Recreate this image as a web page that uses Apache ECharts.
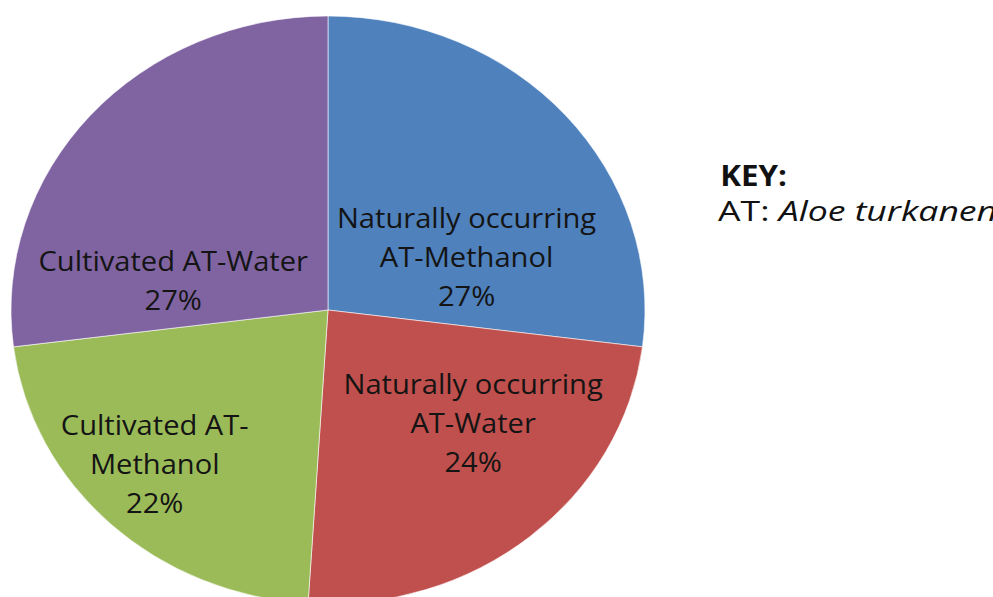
<!DOCTYPE html>
<html>
<head>
<meta charset="utf-8">
<script src="https://cdn.jsdelivr.net/npm/echarts@6/dist/echarts.min.js"></script>
<style>
  html, body { margin: 0; padding: 0; background: #fff; overflow: hidden; }
  /* the chart is drawn slightly wider than tall, so the pie reads as an ellipse */
  #wrap { position: absolute; left: 0; top: 0; width: 993px; height: 597px; overflow: hidden; }
  #chart { position: absolute; left: 0; top: 0; width: 921px; height: 597px;
           transform: scaleX(1.0782); transform-origin: 0 0; }
</style>
</head>
<body>
<div id="wrap"><div id="chart"></div></div>
<script>
// Share of each extract (percent)
const categories = [
  'Naturally occurring AT-Methanol',
  'Naturally occurring AT-Water',
  'Cultivated AT-Methanol',
  'Cultivated AT-Water'
];
// How each category name is broken onto lines inside its slice
const labelNames = [
  'Naturally occurring\nAT-Methanol',
  'Naturally occurring\nAT-Water',
  'Cultivated AT-\nMethanol',
  'Cultivated AT-Water'
];
const shares = [27, 24, 22, 27];
const colors = ['#4F81BD', '#C0504D', '#9BBB59', '#8064A2'];

// Nudges of each slice label away from the default mid-radius spot
const labelNudge = [[16, 46], [39, -3], [-58, 44], [-31, 69]];

const FONT = '"Open Sans", Lato, sans-serif';

const chart = echarts.init(document.getElementById('chart'), null, { renderer: 'svg' });

chart.setOption({
  animation: false,
  backgroundColor: '#ffffff',
  graphic: [
    {
      type: 'text', x: 668, y: 160,
      style: { text: 'KEY:', font: 'bold 29px ' + FONT, fill: '#111', textVerticalAlign: 'top' }
    },
    {
      type: 'text', x: 666, y: 196, scaleX: 1.2,
      style: {
        text: '{n|AT: }{i|Aloe turkanensis}',
        textVerticalAlign: 'top',
        rich: {
          n: { font: '27.5px ' + FONT, fill: '#111' },
          i: { font: 'italic 27.5px ' + FONT, fill: '#111' }
        }
      }
    }
  ],
  series: [{
    type: 'pie',
    center: [304.2, 310],
    radius: 294,
    startAngle: 90,
    clockwise: true,
    avoidLabelOverlap: false,
    itemStyle: { borderColor: 'rgba(255,255,255,0.7)', borderWidth: 0.8 },
    label: {
      show: true,
      position: 'inside',
      color: '#141414',
      fontFamily: FONT,
      fontSize: 27,
      lineHeight: 39,
      align: 'center',
      formatter: p => labelNames[p.dataIndex] + '\n' + p.value + '%'
    },
    labelLine: { show: false },
    labelLayout: p => ({ dx: labelNudge[p.dataIndex][0], dy: labelNudge[p.dataIndex][1] }),
    emphasis: { disabled: true },
    data: categories.map((c, i) => ({
      name: c, value: shares[i], itemStyle: { color: colors[i] }
    }))
  }]
});
</script>
</body>
</html>
